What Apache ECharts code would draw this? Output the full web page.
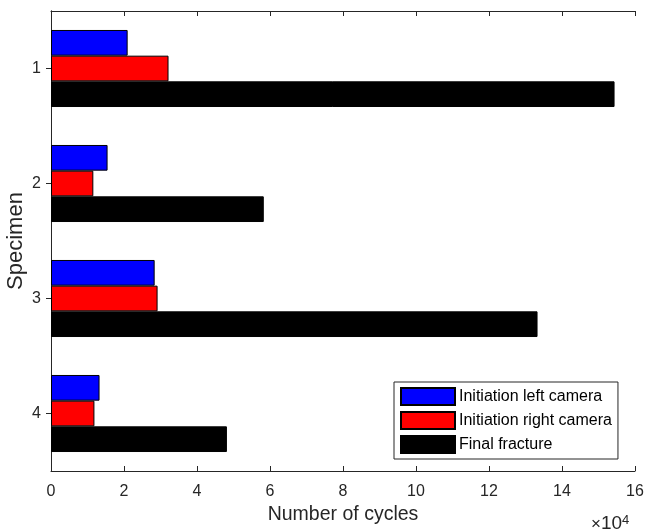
<!DOCTYPE html>
<html><head><meta charset="utf-8">
<script src="https://cdn.jsdelivr.net/npm/echarts@6/dist/echarts.min.js"></script>
<style>html,body{margin:0;padding:0;background:#fff}#c{width:646px;height:530px}</style>
</head><body><div id="c"></div>
<script>
var categories = ['1', '2', '3', '4'];
var seriesNames = ['Initiation left camera', 'Initiation right camera', 'Final fracture'];
var leftCamera = [2.1, 1.55, 2.84, 1.33];
var rightCamera = [3.22, 1.16, 2.92, 1.19];
var finalFracture = [15.44, 5.83, 13.33, 4.82];
var xTicks = [0, 2, 4, 6, 8, 10, 12, 14, 16];

var FONT = 'Liberation Sans, Arial, sans-serif';
var AX = '#262626';
var chart = echarts.init(document.getElementById('c'));
function barSeries(name, data, color) {
  return {
    name: name, type: 'bar', data: data, xAxisIndex: 0, yAxisIndex: 0,
    barGap: '0%', barCategoryGap: '33%',
    itemStyle: { color: color, borderColor: '#000', borderWidth: 1 },
    emphasis: { disabled: true }, animation: false
  };
}
chart.setOption({
  animation: false,
  textStyle: { fontFamily: FONT },
  grid: { left: 51, right: 11, top: 11, bottom: 59, containLabel: false, outerBoundsMode: 'none' },
  legend: {
    data: seriesNames,
    orient: 'vertical', left: 394, top: 382,
    itemWidth: 54, itemHeight: 17, itemGap: 5,
    padding: [5, 6, 5, 6],
    borderColor: AX, borderWidth: 1, backgroundColor: '#fff',
    icon: 'rect',
    textStyle: { fontSize: 16, lineHeight: 17, color: '#000', fontFamily: FONT, padding: [0, 0, 0, -1] },
    selectedMode: false
  },
  xAxis: [{
    type: 'value', min: xTicks[0], max: xTicks[xTicks.length - 1], interval: 2, position: 'bottom',
    name: 'Number of cycles', nameLocation: 'middle', nameGap: 31,
    nameTextStyle: { fontSize: 19.5, color: AX, fontFamily: FONT },
    axisLine: { show: true, lineStyle: { color: AX, width: 1 } },
    axisTick: { show: true, inside: true, length: 5, lineStyle: { color: AX } },
    axisLabel: { fontSize: 16, color: AX, margin: 13, fontFamily: FONT },
    splitLine: { show: false }
  }, {
    type: 'value', min: xTicks[0], max: xTicks[xTicks.length - 1], interval: 2, position: 'top',
    axisLine: { show: true, lineStyle: { color: AX, width: 1 } },
    axisTick: { show: true, inside: true, length: 5, lineStyle: { color: AX } },
    axisLabel: { show: false }, splitLine: { show: false }
  }],
  yAxis: [{
    type: 'category', data: categories, inverse: true, position: 'left',
    name: 'Specimen', nameLocation: 'middle', nameGap: 24, nameRotate: 90, nameMoveOverlap: false,
    nameTextStyle: { fontSize: 22, color: AX, fontFamily: FONT },
    axisLine: { show: true, lineStyle: { color: AX, width: 1 } },
    axisTick: { show: true, inside: true, alignWithLabel: true, length: 5, lineStyle: { color: AX } },
    axisLabel: { fontSize: 16, color: AX, margin: 10, fontFamily: FONT }
  }, {
    type: 'category', data: categories, inverse: true, position: 'right',
    axisLine: { show: true, lineStyle: { color: AX, width: 1 } },
    axisTick: { show: true, inside: true, alignWithLabel: true, length: 5, lineStyle: { color: AX } },
    axisLabel: { show: false }
  }],
  graphic: [{
    type: 'text', left: 591, top: 514,
    style: {
      text: '{a|×}{b|10}{c|4}',
      rich: {
        a: { fontSize: 17, fill: AX, fontFamily: FONT, verticalAlign: 'bottom' },
        b: { fontSize: 19, fill: AX, fontFamily: FONT, verticalAlign: 'bottom' },
        c: { fontSize: 13, fill: AX, fontFamily: FONT, verticalAlign: 'top' }
      }
    }
  }],
  series: [
    barSeries(seriesNames[0], leftCamera, '#0000ff'),
    barSeries(seriesNames[1], rightCamera, '#ff0000'),
    barSeries(seriesNames[2], finalFracture, '#000000')
  ]
});
</script></body></html>
